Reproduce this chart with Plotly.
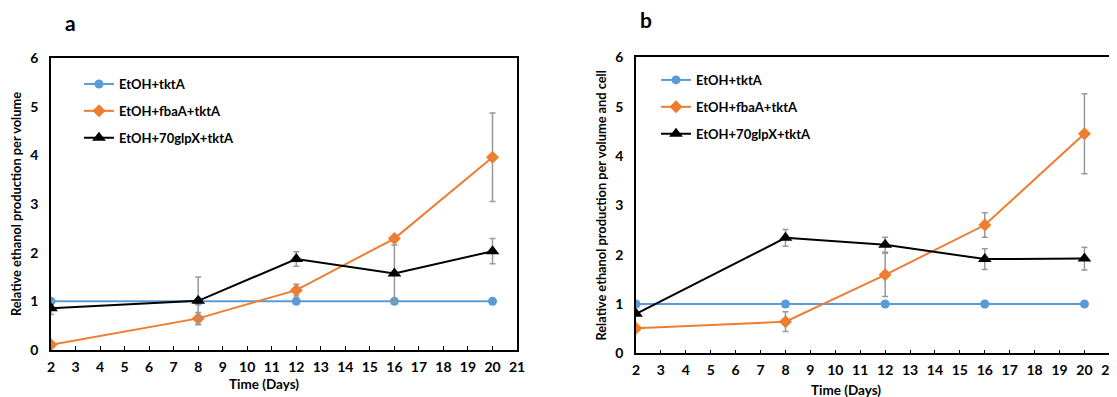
import plotly.graph_objects as go

days = [2, 8, 12, 16, 20]
series_names = ["EtOH+tktA", "EtOH+fbaA+tktA", "EtOH+70glpX+tktA"]

# Panel a: relative ethanol production per volume
a_tkta = [1.0, 1.0, 1.0, 1.0, 1.0]
a_fbaa = [0.11, 0.65, 1.23, 2.29, 3.96]
a_fbaa_err = [0.0, 0.12, 0.12, 0.0, 0.91]
a_glpx = [0.86, 1.01, 1.87, 1.57, 2.03]
a_glpx_err = [0.13, 0.49, 0.15, 0.59, 0.26]

# Panel b: relative ethanol production per volume and cell
b_tkta = [1.0, 1.0, 1.0, 1.0, 1.0]
b_fbaa = [0.51, 0.64, 1.59, 2.60, 4.45]
b_fbaa_err = [0.0, 0.20, 0.44, 0.25, 0.81]
b_glpx = [0.80, 2.34, 2.20, 1.91, 1.92]
b_glpx_err = [0.0, 0.17, 0.15, 0.21, 0.23]

x_ticks = list(range(2, 22))
y_ticks = [0, 1, 2, 3, 4, 5, 6]

BLUE = "#5B9BD5"
ORANGE = "#ED7D31"
BLACK = "#000000"
ERR = "#999999"
FONT = "Lato"

# The page body has an 8px default margin, so the figure is sized to fit.
W, H = 1109, 389

fig = go.Figure()

def add_panel(xa, ya, legend, tk, fb, fb_err, gl, gl_err):
    styles = [
        (tk, None, BLUE, "circle", 9),
        (fb, fb_err, ORANGE, "diamond", 10),
        (gl, gl_err, BLACK, "triangle-up", 12),
    ]
    for i, (vals, err, col, sym, size) in enumerate(styles):
        kw = {}
        if err is not None:
            kw["error_y"] = dict(type="data", array=err, visible=True,
                                 color=ERR, thickness=1.5, width=3)
        fig.add_trace(go.Scatter(
            x=days, y=vals, mode="lines+markers", name=series_names[i],
            line=dict(color=col, width=2),
            marker=dict(color=col, symbol=sym, size=size),
            xaxis=xa, yaxis=ya, legend=legend,
            legendgroup=f"{legend}{i}", **kw))

add_panel("x", "y", "legend", a_tkta, a_fbaa, a_fbaa_err, a_glpx, a_glpx_err)
add_panel("x2", "y2", "legend2", b_tkta, b_fbaa, b_fbaa_err, b_glpx, b_glpx_err)

tickfont = dict(family=FONT, size=14, color="#000000", weight="bold")
titlefont = dict(family=FONT, size=12.8, color="#000000", weight="bold")
xtitlefont = dict(family=FONT, size=13.5, color="#000000", weight="bold")

xcommon = dict(range=[2, 21], tickvals=x_ticks, ticktext=[str(t) for t in x_ticks],
               showgrid=False, zeroline=False, showline=True, linecolor="#000000",
               linewidth=1.5, mirror=True, ticks="inside", ticklen=4, tickcolor="#000000",
               tickfont=tickfont, ticklabelstandoff=3, automargin=False,
               ticklabeloverflow="allow")
ycommon = dict(range=[0, 6], tickvals=y_ticks, showgrid=False, zeroline=False,
               showline=True, linecolor="#000000", linewidth=1.5, mirror=True,
               ticks="", tickfont=tickfont, ticklabelstandoff=8, automargin=False)

legcommon = dict(font=dict(family=FONT, size=13, color="#000000", weight="bold"),
                 bgcolor="rgba(0,0,0,0)", tracegroupgap=7, itemwidth=30,
                 xanchor="left", yanchor="top")

fig.update_layout(
    width=W, height=H,
    margin=dict(l=0, r=0, t=0, b=0),
    paper_bgcolor="white", plot_bgcolor="white",
    xaxis=dict(domain=[0.0388, 0.4590], anchor="y", **xcommon),
    yaxis=dict(domain=[0.1208, 0.8715], anchor="x",
               title=dict(text="Relative ethanol production per volume", font=titlefont, standoff=6),
               **ycommon),
    xaxis2=dict(domain=[0.5663, 0.9931], anchor="y2", **xcommon),
    yaxis2=dict(domain=[0.1123, 0.8733], anchor="x2",
                title=dict(text="Relative ethanol production per volume and cell", font=titlefont, standoff=6),
                **ycommon),
    legend=dict(x=0.0640, y=0.8432, **legcommon),
    legend2=dict(x=0.5843, y=0.8535, **legcommon),
    showlegend=True,
    annotations=[
        dict(text="a", x=62 / W, y=1 - 14 / H, xref="paper", yref="paper",
             xanchor="center", yanchor="middle",
             showarrow=False, font=dict(family=FONT, size=21, color="#000000", weight="bold")),
        dict(text="b", x=638 / W, y=1 - 12 / H, xref="paper", yref="paper",
             xanchor="center", yanchor="middle",
             showarrow=False, font=dict(family=FONT, size=21, color="#000000", weight="bold")),
        dict(text="Time (Days)", x=255.5 / W, y=1 - 376 / H, xref="paper", yref="paper",
             xanchor="center", yanchor="middle", showarrow=False, font=xtitlefont),
        dict(text="Time (Days)", x=838 / W, y=1 - 382 / H, xref="paper", yref="paper",
             xanchor="center", yanchor="middle", showarrow=False, font=xtitlefont),
    ],
)

fig.write_html("out.html")
